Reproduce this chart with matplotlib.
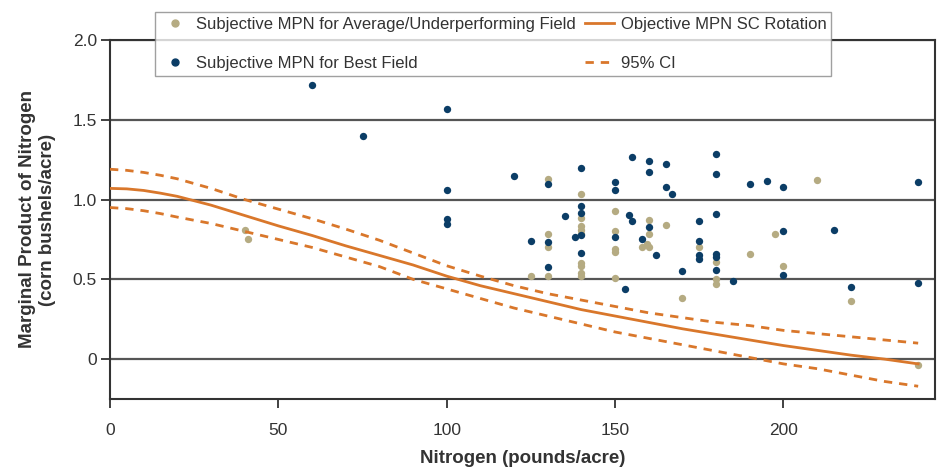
import matplotlib
matplotlib.use('Agg')
import matplotlib.pyplot as plt
from matplotlib.lines import Line2D
from matplotlib.legend_handler import HandlerLine2D

plt.rcParams['font.family'] = ['Liberation Sans', 'DejaVu Sans']

# subjective MPN, average/underperforming field
avg_n = [40, 41, 125, 130, 130, 130, 130, 140, 140, 140, 140, 140, 140, 140, 140, 140,
         150, 150, 150, 150, 150, 160, 160, 158, 160, 159.5, 165, 170, 175, 180, 180, 180,
         190, 197.5, 200, 210, 220, 240]
avg_mpn = [0.81, 0.75, 0.52, 1.13, 0.785, 0.705, 0.52, 1.035, 0.885, 0.837, 0.81, 0.785, 0.604, 0.583, 0.54, 0.52,
           0.927, 0.80, 0.69, 0.67, 0.51, 0.87, 0.785, 0.70, 0.70, 0.72, 0.84, 0.38, 0.70, 0.61, 0.50, 0.47,
           0.66, 0.785, 0.583, 1.125, 0.365, -0.04]

# subjective MPN, best field
best_n = [60, 75, 100, 100, 100, 100, 120, 125, 130, 130, 130, 135, 138, 140, 140, 140, 140, 140,
          150, 150, 150, 153, 155, 154, 155, 158, 160, 160, 160, 162, 165, 165, 167, 170,
          175, 175, 175, 175, 180, 180, 180, 180, 180, 180, 185, 190, 195, 200, 200, 200,
          215, 220, 240, 240]
best_mpn = [1.72, 1.40, 1.565, 1.06, 0.88, 0.845, 1.145, 0.74, 1.10, 0.735, 0.58, 0.90, 0.765, 1.20, 0.96, 0.917, 0.777, 0.667,
            1.11, 1.06, 0.765, 0.44, 1.265, 0.906, 0.865, 0.75, 1.24, 1.17, 0.825, 0.65, 1.22, 1.08, 1.035, 0.55,
            0.865, 0.74, 0.65, 0.625, 1.285, 1.16, 0.91, 0.66, 0.64, 0.56, 0.49, 1.10, 1.115, 1.08, 0.80, 0.525,
            0.81, 0.45, 1.11, 0.48]

# objective MPN curve and 95% CI
curve_n = [0, 5, 10, 15, 20, 30, 40, 50, 60, 70, 80, 90, 100, 110, 120, 130, 140, 150, 160, 170, 180, 190,
           200, 210, 220, 230, 240]
obj_mpn = [1.07, 1.067, 1.057, 1.04, 1.02, 0.965, 0.90, 0.835, 0.775, 0.71, 0.65, 0.59, 0.52, 0.46, 0.41, 0.36, 0.31,
           0.27, 0.23, 0.19, 0.155, 0.12, 0.085, 0.055, 0.025, 0.0, -0.03]
ci_upper = [1.19, 1.183, 1.17, 1.152, 1.13, 1.07, 1.00, 0.94, 0.88, 0.815, 0.745, 0.665, 0.585, 0.52, 0.46, 0.41, 0.37,
            0.33, 0.29, 0.26, 0.23, 0.21, 0.18, 0.16, 0.14, 0.12, 0.10]
ci_lower = [0.95, 0.943, 0.93, 0.912, 0.89, 0.85, 0.80, 0.75, 0.70, 0.64, 0.58, 0.50, 0.44, 0.38, 0.32, 0.27, 0.22,
            0.17, 0.13, 0.09, 0.05, 0.01, -0.03, -0.06, -0.10, -0.14, -0.17]

tan = '#b5ab82'
navy = '#0b3d66'
orange = '#d9772b'
dark = '#333333'


class LeftDot(HandlerLine2D):
    # put the marker near the left end of the handle instead of the middle
    def get_xdata(self, legend, xdescent, ydescent, width, height, fontsize):
        return [-xdescent, -xdescent + width], [-xdescent + 0.3 * width]


fig = plt.figure(figsize=(9.43, 4.68), dpi=100)
ax = fig.add_axes([110/943, 1 - 399/468, 825/943, 359/468])

ax.set_xlim(0, 245)
ax.set_ylim(-0.25, 2.0)
ax.set_yticks([0, 0.5, 1.0, 1.5, 2.0])
ax.set_yticklabels(['0', '0.5', '1.0', '1.5', '2.0'])
ax.set_xticks([0, 50, 100, 150, 200])

ax.yaxis.grid(True, color='#555555', linewidth=1.6)
ax.set_axisbelow(True)
for s in ax.spines.values():
    s.set_color(dark)
    s.set_linewidth(1.5)

ax.tick_params(axis='both', colors=dark, labelsize=12.5, width=1.3, length=6.5)
ax.tick_params(axis='y', pad=3)
ax.tick_params(axis='x', pad=10.5)

ax.scatter(avg_n, avg_mpn, s=28, color=tan, zorder=3, linewidths=0)
ax.scatter(best_n, best_mpn, s=28, color=navy, zorder=4, linewidths=0)

ax.plot(curve_n, obj_mpn, color=orange, lw=2, zorder=5)
ax.plot(curve_n, ci_upper, color=orange, lw=2, dashes=(3, 2.5), zorder=5)
ax.plot(curve_n, ci_lower, color=orange, lw=2, dashes=(3, 2.5), zorder=5)

ax.set_xlabel('Nitrogen (pounds/acre)', fontsize=13.5, fontweight='bold', color=dark, labelpad=9)
ax.set_ylabel('Marginal Product of Nitrogen\n(corn bushels/acre)', fontsize=13.5,
              fontweight='bold', color=dark, labelpad=12)

h_avg = Line2D([], [], marker='o', ls='none', color=tan, markersize=5)
h_best = Line2D([], [], marker='o', ls='none', color=navy, markersize=5)
h_obj = Line2D([], [], color=orange, lw=2)
h_ci = Line2D([], [], color=orange, lw=2, dashes=(3, 2.5))
handles = [h_avg, h_best, h_obj, h_ci]
labels = ['Subjective MPN for Average/Underperforming Field', 'Subjective MPN for Best Field',
          'Objective MPN SC Rotation', '95% CI']
leg = fig.legend(handles, labels, ncol=2, loc='upper left', bbox_to_anchor=(155/943, 1 - 12/468),
                 frameon=True, fancybox=False, fontsize=12, labelspacing=1.45, columnspacing=0.55,
                 handlelength=1.75, handletextpad=0.4, borderpad=0.3, borderaxespad=0,
                 handler_map={h_avg: LeftDot(), h_best: LeftDot()})
leg.get_frame().set_edgecolor('#888888')
leg.get_frame().set_linewidth(1.0)
for t in leg.get_texts():
    t.set_color(dark)

fig.savefig('out.png', dpi=100)
